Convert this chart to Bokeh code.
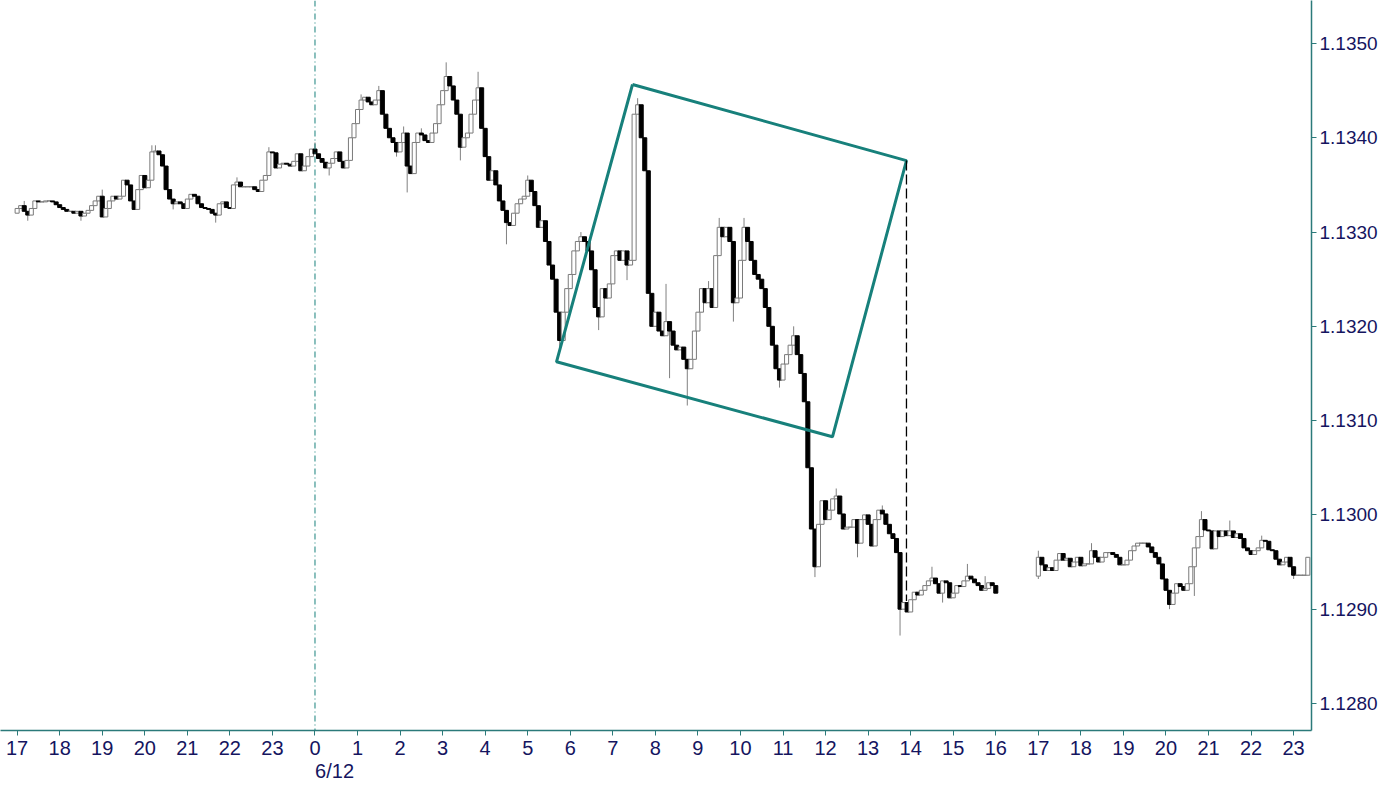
from bokeh.plotting import figure
from bokeh.models import (Range1d, FixedTicker, ColumnDataSource, Span,
                          NumeralTickFormatter, LinearAxis)
from bokeh.embed import file_html
from bokeh.resources import INLINE

# ---------------- data (prices in pips relative to 1.1300) ----------------
BASE = 1.1300
PIP = 0.0001

# segment 1: 5-minute candles, 17:00 (day before) .. 16:00 (6/12); hours relative to 0:00 of 6/12
seg1_start_hour = -7.0
seg1_first_open = 32.0
seg1_close = [
    32.5, 32.8, 32.2, 31.8, 32.5, 33.3, 33.2, 33.2, 33.3, 33.3, 33.2, 32.9,   # 17
    32.6, 32.4, 32.2, 32.2, 32.0, 32.2, 31.7, 32.0, 32.3, 32.8, 33.3, 33.8,   # 18
    31.6, 32.5, 33.3, 33.8, 33.5, 33.8, 35.5, 35.0, 33.3, 32.4, 34.5, 36.0,   # 19
    34.7, 35.5, 38.5, 38.6, 38.2, 37.0, 34.5, 33.5, 33.0, 33.2, 33.0, 32.5,   # 20
    33.5, 34.0, 33.8, 33.0, 32.6, 32.5, 32.4, 32.0, 31.8, 33.0, 33.2, 32.6,   # 21
    32.5, 35.0, 35.3, 34.8, 34.8, 34.8, 34.8, 34.5, 34.3, 35.5, 36.0, 38.5,   # 22
    38.4, 36.8, 37.2, 37.3, 37.2, 37.0, 37.5, 38.3, 36.5, 37.0, 38.0, 38.8,   # 23
    38.3, 37.8, 37.4, 36.8, 37.3, 37.8, 38.5, 37.5, 36.8, 37.6, 40.0, 41.5,   # 0
    43.0, 44.0, 44.3, 43.8, 43.5, 44.0, 45.0, 42.5, 41.0, 40.0, 39.5, 38.5,   # 1
    39.5, 40.5, 37.0, 36.2, 39.5, 40.5, 40.3, 39.7, 39.5, 40.5, 41.5, 43.5,   # 2
    45.0, 46.5, 45.5, 44.0, 42.5, 39.0, 40.0, 40.5, 42.5, 44.0, 45.3, 41.0,   # 3
    38.0, 35.5, 36.5, 35.0, 33.3, 32.3, 31.0, 30.7, 32.0, 33.0, 33.5, 33.8,   # 4
    35.5, 34.3, 32.8, 30.5, 31.2, 29.0, 26.5, 25.0, 21.5, 18.5, 21.5, 24.0,   # 5
    25.5, 28.0, 29.0, 29.5, 29.0, 28.0, 26.0, 22.0, 21.0, 24.0, 23.0, 24.5,   # 6
    27.5, 28.0, 27.0, 28.0, 26.5, 27.0, 42.5, 43.5, 40.0, 36.5, 23.5, 20.0,   # 7
    21.5, 19.5, 19.0, 20.5, 19.5, 18.0, 17.5, 17.8, 16.5, 15.5, 16.5, 19.5,   # 8
    21.5, 24.0, 22.5, 24.0, 22.0, 27.5, 30.5, 29.5, 30.5, 29.0, 22.5, 23.0,   # 9
    27.0, 30.5, 29.0, 27.0, 25.5, 25.0, 24.0, 22.0, 20.0, 18.0, 15.5, 14.3,   # 10
    16.0, 17.0, 18.0, 19.0, 17.0, 15.0, 12.0, 5.0, -1.5, -5.5, -1.0, 1.5,     # 11
    -0.5, 0.5, 1.7, 2.0, 0.1, -1.5, -1.3, -1.3, -0.5, -3.0, -0.5, 0.0,        # 12
    -1.0, -3.3, -0.5, 0.5, 0.1, -1.0, -2.0, -2.5, -4.0, -10.0, -9.3, -10.3,   # 13
    -9.0, -8.2, -8.5, -8.0, -7.5, -7.0, -6.7, -7.3, -8.3, -7.0, -7.2, -8.8,   # 14
    -8.3, -7.5, -7.6, -7.0, -6.5, -6.8, -7.2, -7.5, -8.0, -7.8, -7.2, -7.5,   # 15
    -8.3,                                                                     # 16
]
seg1_high = {2: 33.3, 24: 34.5, 38: 39.2, 39: 39.2, 62: 35.8, 71: 39.0, 84: 39.5,
             97: 44.6, 102: 45.5, 109: 41.2, 114: 41.0, 121: 48.0, 130: 47.0,
             144: 36.0, 159: 30.0, 175: 44.2, 183: 24.5, 195: 24.8, 198: 31.5,
             205: 31.5, 219: 20.0, 231: 2.8, 244: 1.0, 258: -5.5, 268: -5.2, 273: -6.5}
seg1_low = {3: 31.2, 18: 31.2, 44: 32.4, 56: 31.0, 88: 36.0, 107: 38.0, 110: 34.2,
            125: 37.6, 138: 28.7, 153: 17.8, 164: 19.6, 172: 24.9, 184: 14.5,
            189: 11.6, 202: 20.5, 215: 13.5, 225: -6.6, 237: -4.5, 249: -12.8,
            261: -9.3}

# segment 2: 5-minute candles, 17:00 .. 23:20 (6/12)
seg2_start_hour = 17.0
seg2_first_open = -6.5
seg2_close = [
    -4.5, -5.3, -5.9, -5.6, -5.9, -4.8, -4.1, -4.8, -4.6, -5.5, -5.0, -4.5,   # 17
    -5.4, -5.2, -5.2, -3.8, -4.5, -5.0, -4.5, -4.0, -4.0, -4.2, -4.5, -5.3,   # 18
    -5.3, -4.8, -3.8, -3.3, -3.0, -3.0, -3.0, -3.4, -4.0, -4.5, -5.2, -6.8,   # 19
    -8.0, -9.5, -8.3, -7.3, -7.6, -8.0, -7.3, -5.5, -3.5, -2.3, -0.5, -1.6,   # 20
    -1.7, -3.6, -1.7, -2.3, -1.7, -2.2, -1.7, -2.4, -2.0, -2.5, -3.5, -3.8,   # 21
    -4.2, -3.8, -3.5, -2.7, -2.8, -3.7, -3.8, -4.7, -5.3, -5.0, -4.5, -5.5,   # 22
    -6.4, -6.4, -6.4, -6.4, -4.5,                                             # 23
]
seg2_high = {0: -3.8, 15: -3.0, 46: 0.4, 54: -0.6, 63: -2.2}
seg2_low = {0: -6.8, 37: -10.0, 44: -8.6, 72: -6.8}

# axis ticks / labels
hour_ticks = [-7, -6, -5, -4, -3, -2, -1, 0, 1, 2, 3, 4, 5, 6, 7, 8, 9, 10, 11, 12,
              13, 14, 15, 16, 17, 18, 19, 20, 21, 22, 23]
hour_labels = ["17", "18", "19", "20", "21", "22", "23", "0", "1", "2", "3", "4", "5",
               "6", "7", "8", "9", "10", "11", "12", "13", "14", "15", "16", "17", "18",
               "19", "20", "21", "22", "23"]
date_label = "6/12"
date_label_hour = 0.46
price_ticks = [1.1280, 1.1290, 1.1300, 1.1310, 1.1320, 1.1330, 1.1340, 1.1350]

# drawn annotation (hours, price)
box_hours = [7.462, 13.901, 12.162, 5.676, 7.462]
box_prices = [1.134565, 1.133758, 1.130828, 1.131624, 1.134565]
drop_hour = 13.901
drop_top = 1.133758
drop_bottom = 1.129087
session_hour = 0.0

# ---------------- build candles ----------------
BAR = 1.0 / 12.0


def build(start, open0, closes, highs, lows):
    rows = dict(t=[], top=[], bottom=[], hi=[], lo=[], fill=[], line=[])
    prev = open0
    for k, cl in enumerate(closes):
        op = prev
        hi = highs.get(k, max(op, cl))
        lo = lows.get(k, min(op, cl))
        rows["t"].append(start + k * BAR)
        rows["top"].append(BASE + max(op, cl) * PIP)
        rows["bottom"].append(BASE + min(op, cl) * PIP)
        rows["hi"].append(BASE + hi * PIP)
        rows["lo"].append(BASE + lo * PIP)
        up = cl >= op
        rows["fill"].append("white" if up else "black")
        rows["line"].append("#7a7a7a" if up else "#000000")
        prev = cl
    return rows


r1 = build(seg1_start_hour, seg1_first_open, seg1_close, seg1_high, seg1_low)
r2 = build(seg2_start_hour, seg2_first_open, seg2_close, seg2_high, seg2_low)
data = {k: r1[k] + r2[k] for k in r1}
src = ColumnDataSource(data)

# ---------------- figure ----------------
TEAL = "#17807b"
AXIS = "#2b7a7a"
NAVY = "#15155f"
FONT = "Liberation Sans"
FSIZE = "19px"
XSIZE = "20px"

p = figure(width=1381, height=786,
           x_range=Range1d(-7.391, 23.42), y_range=Range1d(1.127713, 1.135456),
           y_axis_location="right", output_backend="svg", toolbar_location=None,
           min_border_left=0, min_border_top=0, min_border_right=70, min_border_bottom=56)
p.outline_line_color = None
p.xgrid.visible = False
p.ygrid.visible = False
p.background_fill_color = "white"
p.border_fill_color = "white"

p.add_layout(Span(location=session_hour, dimension="height", line_color=TEAL,
                  line_width=1, line_dash="6 3 1 3"))

p.segment(x0="t", y0="lo", x1="t", y1="hi", source=src, line_color="#808080", line_width=1)
p.vbar(x="t", width=0.095, top="top", bottom="bottom", source=src,
       fill_color="fill", line_color="line", line_width=1)

p.line(box_hours, box_prices, line_color=TEAL, line_width=3)
p.segment(x0=[drop_hour], y0=[drop_top], x1=[drop_hour], y1=[drop_bottom],
          line_color="#000000", line_width=1.3, line_dash="10 4")

xa = p.xaxis[0]
xa.ticker = FixedTicker(ticks=hour_ticks)
xa.major_label_overrides = {t: l for t, l in zip(hour_ticks, hour_labels)}
ya = p.yaxis[0]
ya.ticker = FixedTicker(ticks=price_ticks)
ya.formatter = NumeralTickFormatter(format="0.0000")
for ax in (xa, ya):
    ax.axis_line_color = AXIS
    ax.axis_line_width = 1.5
    ax.major_tick_line_color = AXIS
    ax.major_tick_in = 0
    ax.major_tick_out = 5
    ax.minor_tick_out = 0
    ax.minor_tick_in = 0
    ax.major_label_text_color = NAVY
    ax.major_label_text_font = FONT
xa.major_label_text_font_size = XSIZE
ya.major_label_text_font_size = FSIZE
xa.major_label_standoff = 5
ya.major_label_standoff = 3

date_axis = LinearAxis(ticker=FixedTicker(ticks=[date_label_hour]),
                       major_label_overrides={date_label_hour: date_label})
date_axis.axis_line_color = None
date_axis.major_tick_line_color = None
date_axis.minor_tick_line_color = None
date_axis.major_tick_out = 0
date_axis.major_tick_in = 0
date_axis.major_label_standoff = 2
date_axis.major_label_text_color = NAVY
date_axis.major_label_text_font = FONT
date_axis.major_label_text_font_size = XSIZE
p.add_layout(date_axis, "below")

open("out.html", "w").write(file_html(p, INLINE))
